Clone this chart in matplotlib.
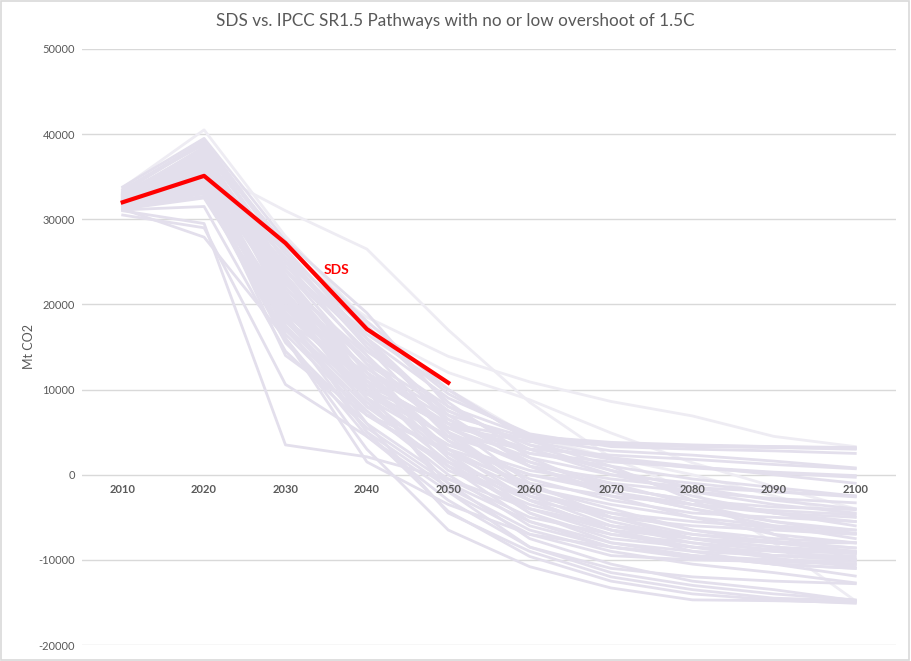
import matplotlib.pyplot as plt
from matplotlib.patches import Rectangle

years = ["2010", "2020", "2030", "2040", "2050", "2060", "2070", "2080", "2090", "2100"]

sds = [32000, 35100, 27200, 17100, 10800]

# IPCC SR1.5 pathways (Mt CO2)
pathways = [
    [32500, 36500, 22000, 12000, 6000, 4200, 3600, 3400, 3300, 3200],
    [33000, 37500, 24000, 14500, 8000, 4500, 3800, 3500, 3300, 3100],
    [31800, 34000, 20000, 11000, 5500, 3900, 3500, 3300, 3200, 3000],
    [32200, 35500, 25500, 16000, 9000, 4800, 3300, 3000, 2800, 2500],
    [32800, 38000, 23000, 13000, 7000, 4300, 2800, 2300, 1600, 800],
    [31500, 33000, 19000, 10000, 4500, 3000, 2300, 1800, 1200, 700],
    [32000, 36000, 21000, 12500, 6500, 2500, 1500, 900, 300, -100],
    [33200, 39000, 26000, 15000, 7500, 3500, 1800, 800, 200, -300],
    [32400, 35000, 22500, 13500, 5000, 1000, -500, -1500, -2000, -2500],
    [31900, 34500, 18500, 9000, 3500, 500, -1000, -2000, -2800, -3300],
    [32600, 37000, 24500, 15500, 6500, 1500, -1500, -3000, -3800, -4100],
    [31200, 32500, 17500, 8000, 2500, -1000, -2500, -3500, -4200, -4700],
    [32100, 36800, 20500, 11500, 4000, -500, -3000, -4500, -5000, -5500],
    [32700, 38500, 27000, 17500, 8500, 2000, -2000, -4000, -5500, -6500],
    [31600, 33500, 16500, 7000, 1500, -2500, -4500, -5500, -6200, -6900],
    [33000, 37200, 23500, 12000, 3000, -1500, -3500, -5000, -6000, -6500],
    [32300, 35800, 21500, 10500, 2000, -3000, -5000, -6000, -6500, -7000],
    [31400, 34200, 19500, 9500, 3500, 0, -2000, -3500, -4500, -5000],
    [32500, 36200, 22000, 11000, 1000, -4000, -6500, -7500, -8000, -8000],
    [31800, 35200, 18000, 8500, 500, -3500, -6000, -7000, -7800, -8600],
    [32900, 38200, 25000, 14000, 4500, -2000, -5500, -7500, -8500, -9200],
    [31300, 33200, 15500, 6000, -500, -5000, -7000, -8000, -8800, -9200],
    [32200, 36600, 20000, 9000, 1500, -4500, -7500, -8500, -9500, -10000],
    [32600, 37800, 24000, 13000, 2500, -4000, -7000, -8500, -9800, -10800],
    [31700, 34800, 17000, 7500, 0, -6000, -8500, -9500, -10500, -11000],
    [32400, 36400, 21000, 10000, 3000, -3000, -6500, -9000, -10500, -11900],
    [32000, 35600, 19000, 5000, -1500, -6500, -9000, -10500, -11500, -12700],
    [33400, 39200, 26500, 16000, 6000, -1000, -5000, -7500, -9000, -9800],
    [31100, 31500, 14500, 5500, -1000, -5500, -8000, -9000, -9500, -9500],
    [32800, 37400, 22500, 12000, 2000, -4500, -8000, -9500, -10500, -11000],
    [31500, 34000, 16000, 4500, -2000, -7000, -9500, -10000, -10200, -10500],
    [32300, 36000, 20500, 8000, 1000, -5500, -8500, -9800, -10200, -10500],
    [32100, 35400, 18500, 6000, -4500, -9000, -12000, -13500, -14500, -14800],
    [31600, 33800, 16000, 3000, -6500, -10800, -13300, -14700, -14800, -15000],
    [32700, 37600, 23000, 10000, -2000, -8500, -11500, -13000, -14000, -14700],
    [31900, 34600, 17500, 5000, -4300, -9600, -12500, -14000, -14700, -15100],
    [32500, 36600, 21500, 9000, -1000, -7500, -10500, -12500, -13500, -14800],
    [31000, 29500, 3500, 2100, -500, -4000, -6000, -7500, -8500, -9000],
    [30500, 29000, 10600, 4500, -3000, -8500, -11000, -12000, -12500, -12800],
    [31200, 27900, 16000, 1500, -3500, -7000, -8500, -9500, -10000, -10200],
    [33500, 38800, 25000, 16500, 10000, 4000, 2000, 1000, 0, -1000],
    [33800, 39500, 27500, 19000, 8000, 3000, 0, -2000, -3500, -4500],
    [32000, 35000, 24000, 16000, 7000, 1000, -2500, -5000, -7000, -8000],
    [31700, 33900, 22500, 14000, 5000, -1500, -4000, -6500, -8000, -9000],
    [32500, 36500, 26000, 17000, 9500, 4500, 3600, 3400, 3200, 3100],
    [32200, 35800, 23000, 11000, 5500, 2000, 0, -1000, -2000, -2600],
    [32600, 37000, 19500, 10500, 6000, 3000, 500, -1500, -3000, -4000],
    [31400, 32700, 18000, 12000, 4000, -2000, -5000, -7000, -8000, -8600],
    [32800, 38000, 21000, 8000, 2500, -2000, -4500, -6500, -7500, -8000],
    [31900, 34400, 14000, 7000, 3000, 0, -1500, -3000, -4500, -5500],
    [32400, 36200, 25500, 15000, 5000, -2500, -6000, -8000, -9500, -10000],
    [33100, 37900, 20000, 9500, 4500, 1500, -1000, -3500, -5500, -6900],
    [32000, 35200, 17000, 10000, 6000, 2500, 1000, -500, -1500, -2500],
    [31800, 34900, 21000, 13500, 7500, 3500, 500, -2500, -4500, -6000],
    [32900, 38400, 27000, 18000, 10000, 4000, 1000, -3000, -7000, -10000],
    [32300, 35600, 18500, 7000, 1000, -3000, -6500, -8500, -9000, -9200],
    [31600, 33300, 20000, 12500, 5500, 1000, -2000, -4000, -6000, -7500],
]

# fainter pathways in the original
faint_pathways = [
    [33700, 40500, 28000, 18000, 10000, 4500, 2000, 0, -2500, -5000],
    [32800, 36000, 31000, 26500, 17000, 8500, 2000, -2000, -8000, -14800],
    [32500, 34500, 25000, 18500, 13900, 10900, 8600, 6900, 4500, 3300],
    [32000, 34000, 23000, 17000, 12000, 8800, 4900, 1400, -1400, -4000],
]

TEXT_COLOR = "#595959"
FONT = "Lato"

plt.rcParams["axes.unicode_minus"] = False

fig = plt.figure(figsize=(9.11, 6.61), dpi=100)
fig.patches.append(Rectangle((0.001, 0.001), 0.997, 0.997, transform=fig.transFigure,
                             fill=False, edgecolor="#D9D9D9", linewidth=1.2))
ax = fig.add_axes([0.090, 0.0242, 0.8935, 0.9017])

yticks = list(range(-20000, 50001, 10000))
for value in yticks:
    ax.axhline(value, color="#D9D9D9", linewidth=1.0, zorder=0)

x = list(range(len(years)))
for row in faint_pathways:
    ax.plot(x, row, color="#EEECF3", linewidth=2.0, solid_joinstyle="round", zorder=2)
for row in pathways:
    ax.plot(x, row, color="#E3DFEC", linewidth=2.0, solid_joinstyle="round", zorder=3)
ax.plot(x[:len(sds)], sds, color="#FF0000", linewidth=3.0, solid_joinstyle="round", zorder=5)
ax.text(2.63, 24100, "SDS", color="#FF0000", fontsize=10, fontweight="bold",
        family=FONT, ha="center", va="center", zorder=6)

ax.set_xlim(-0.5, len(years) - 0.5)
ax.set_ylim(-20000, 50000)
ax.set_yticks(yticks)
ax.set_xticks(x)
ax.set_xticklabels(years)

for name in ["top", "right", "left"]:
    ax.spines[name].set_visible(False)
ax.spines["bottom"].set_position(("data", 0))
ax.spines["bottom"].set_visible(False)
ax.tick_params(axis="x", length=0, pad=7, labelsize=8, labelcolor=TEXT_COLOR)
ax.tick_params(axis="y", length=0, pad=5, labelsize=8, labelcolor=TEXT_COLOR)
for label in ax.get_xticklabels():
    label.set_family(FONT)
    label.set_fontweight("bold")
for label in ax.get_yticklabels():
    label.set_family(FONT)
ax.xaxis.set_zorder(10)

ax.set_ylabel("Mt CO2", fontsize=9, color=TEXT_COLOR, family=FONT)
ax.yaxis.set_label_coords(-0.058, 0.5)
fig.text(0.5, 0.968, "SDS vs. IPCC SR1.5 Pathways with no or low overshoot of 1.5C",
         ha="center", va="center", fontsize=12.3, color=TEXT_COLOR, family=FONT)

fig.savefig("out.png", dpi=100)
